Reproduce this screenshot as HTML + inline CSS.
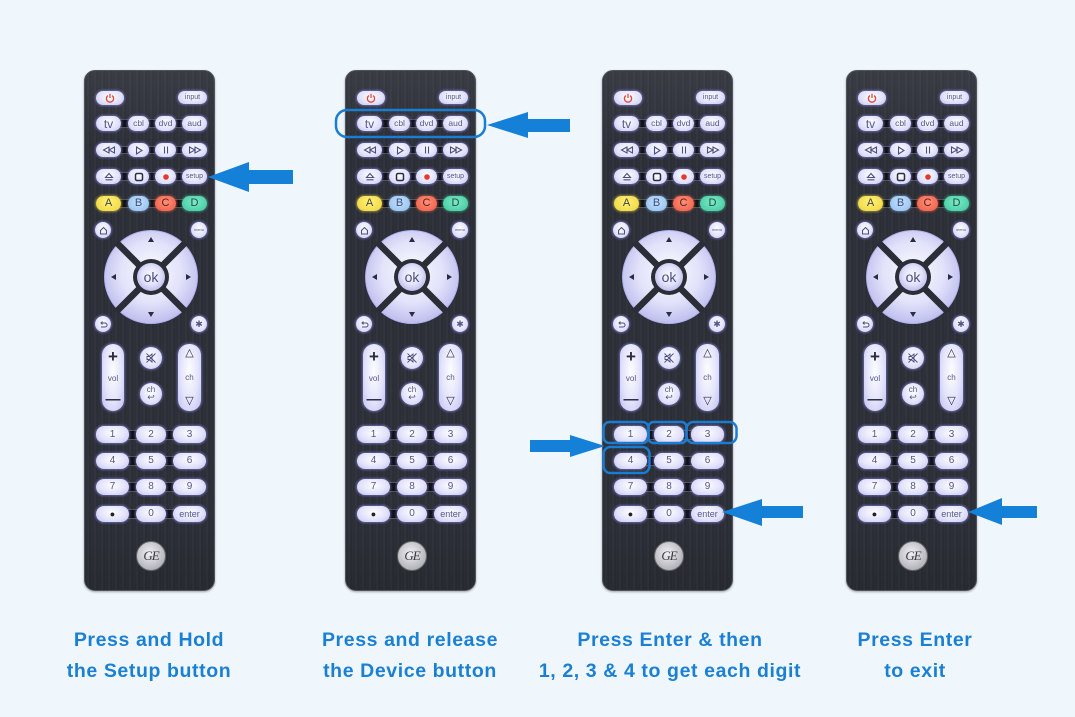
<!DOCTYPE html>
<html><head><meta charset="utf-8">
<style>
*{margin:0;padding:0;box-sizing:border-box}
html,body{width:1075px;height:717px;overflow:hidden;background:#eff7fd;font-family:"Liberation Sans",sans-serif}
.remote{position:absolute;top:70px;width:131px;height:521px;border-radius:11px;
background:linear-gradient(180deg,rgba(255,255,255,.06),rgba(0,0,0,0) 15%,rgba(0,0,0,0) 85%,rgba(0,0,0,.12)),
repeating-linear-gradient(90deg,#2d3038 0px,#2d3038 2px,#353840 3px,#292c33 5px,#30333b 7px);
border:1.5px solid #50535c;box-shadow:0 1px 2px rgba(0,0,0,.35)}
.b{position:absolute;border-radius:8px;background:radial-gradient(ellipse at 50% 40%,#fdfdff 0%,#e3e3fb 55%,#c0c0f0 100%);
box-shadow:0 0 2px 1px rgba(140,140,250,.6);color:#52578a;font-size:8.5px;display:flex;align-items:center;justify-content:center;line-height:1}
.s{position:absolute;left:12px;width:108px;background:#111216;border-top:1px solid #555;border-bottom:1px solid #555}
.c1{left:11px;width:25px}.c2{left:43px;width:21px}.c3{left:70px;width:21px}.c4{left:97px;width:25px}
.r1{top:45px;height:15px}.r2{top:72px;height:14px}.r3{top:98px;height:15px}.r4{top:125px;height:15px}
.n1{left:11px;width:33px}.n2{left:51px;width:30px}.n3{left:88px;width:33px}
.k1{top:355px;height:17px}.k2{top:382px;height:16px}.k3{top:408px;height:16px}.k4{top:435px;height:16px}
.k1,.k2,.k3{font-size:10px}.k4{font-size:9px}
.ci{width:16px;height:16px;border-radius:50%}
.A{background:radial-gradient(ellipse at 50% 40%,#fff27a,#eed23a);box-shadow:0 0 2px 1px rgba(240,220,80,.5);color:#444}
.B{background:radial-gradient(ellipse at 50% 40%,#c6e0fa,#8fbdee);box-shadow:0 0 2px 1px rgba(140,180,240,.5);color:#3b4f80}
.C{background:radial-gradient(ellipse at 50% 40%,#ff8f78,#ec5a44);box-shadow:0 0 2px 1px rgba(240,100,80,.5);color:#5a2020}
.D{background:radial-gradient(ellipse at 50% 40%,#7ee8c8,#3cc79c);box-shadow:0 0 2px 1px rgba(70,200,160,.5);color:#1f5040}
.ab{font-size:11px}
.rock{border-radius:11px;flex-direction:column;justify-content:space-between;padding:4px 0}
.ge{position:absolute;left:51px;top:470px;width:30px;height:30px;border-radius:50%;background:radial-gradient(circle at 45% 40%,#f0f0f4,#b5b5bd 70%,#8a8a92);border:1px solid #666;display:flex;align-items:center;justify-content:center;font:italic 13px "Liberation Serif",serif;color:#3a3a40;letter-spacing:-1px}
.lbl{position:absolute;width:320px;text-align:center;font-weight:bold;font-size:19.5px;line-height:31px;color:#1b80d4;letter-spacing:0.6px;top:625px}
</style></head><body>
<svg width="0" height="0" style="position:absolute"><defs>
<radialGradient id="lav" cx="50%" cy="45%" r="55%"><stop offset="0" stop-color="#fbfbff"/><stop offset=".6" stop-color="#e2e2fa"/><stop offset="1" stop-color="#bebeef"/></radialGradient>
</defs></svg>

<!-- REMOTE 1 -->
<div class="remote" style="left:84px">
<div class="b" style="left:11px;top:20px;width:28px;height:14px"><svg width="10" height="10" viewBox="0 0 10 10"><path d="M3 2.6A3.6 3.6 0 1 0 7 2.6" fill="none" stroke="#e04a3a" stroke-width="1.3"/><line x1="5" y1="0.8" x2="5" y2="5" stroke="#e04a3a" stroke-width="1.3"/></svg></div>
<div class="b" style="left:93px;top:20px;width:29px;height:13px;font-size:7px">input</div>
<div class="s" style="top:48px;height:9px"></div>
<div class="b c1 r1" style="font-size:12px">tv</div><div class="b c2 r1">cbl</div><div class="b c3 r1">dvd</div><div class="b c4 r1">aud</div>
<div class="s" style="top:75px;height:8px"></div>
<div class="b c1 r2"><svg width="14" height="8" viewBox="0 0 14 8"><path d="M7 1L1.5 4L7 7Z M12.5 1L7 4L12.5 7Z" fill="none" stroke="#4a4f80" stroke-width="1.1"/></svg></div>
<div class="b c2 r2"><svg width="8" height="9" viewBox="0 0 8 9"><path d="M1.5 1L7 4.5L1.5 8Z" fill="none" stroke="#4a4f80" stroke-width="1.1"/></svg></div>
<div class="b c3 r2"><svg width="6" height="8" viewBox="0 0 6 8"><path d="M1.5 0.5V7.5M4.5 0.5V7.5" stroke="#4a4f80" stroke-width="1.1"/></svg></div>
<div class="b c4 r2"><svg width="14" height="8" viewBox="0 0 14 8"><path d="M1.5 1L7 4L1.5 7Z M7 1L12.5 4L7 7Z" fill="none" stroke="#4a4f80" stroke-width="1.1"/></svg></div>
<div class="s" style="top:101px;height:9px"></div>
<div class="b c1 r3"><svg width="10" height="9" viewBox="0 0 10 9"><path d="M1.5 5.5L5 1.5L8.5 5.5Z M1.5 7.8H8.5" fill="none" stroke="#4a4f80" stroke-width="1.1"/></svg></div>
<div class="b c2 r3"><svg width="10" height="10" viewBox="0 0 10 10"><rect x="1.5" y="1.5" width="7" height="7" rx="1.5" fill="none" stroke="#2a2d40" stroke-width="1.5"/></svg></div>
<div class="b c3 r3"><svg width="8" height="8" viewBox="0 0 8 8"><circle cx="4" cy="4" r="2.8" fill="#e8382e"/></svg></div>
<div class="b c4 r3" style="font-size:7px">setup</div>
<div class="s" style="top:128px;height:9px"></div>
<div class="b c1 r4 A ab">A</div><div class="b c2 r4 B ab">B</div><div class="b c3 r4 C ab">C</div><div class="b c4 r4 D ab">D</div>
<div class="b ci" style="left:10px;top:151px"><svg width="9" height="9" viewBox="0 0 9 9"><path d="M1.5 4.5L4.5 1.5L7.5 4.5V8H1.5Z" fill="none" stroke="#4a4f80" stroke-width="1"/></svg></div>
<div class="b ci" style="left:106px;top:151px;font-size:4px">menu</div>
<svg style="position:absolute;left:19px;top:159px" width="94" height="94" viewBox="0 0 94 94">
<circle cx="47" cy="47" r="46.5" fill="url(#lav)" stroke="#b0b0ee" stroke-width="1"/>
<g stroke="#2b2e36" stroke-width="6.5"><line x1="12" y1="12" x2="82" y2="82"/><line x1="82" y1="12" x2="12" y2="82"/></g>
<circle cx="47" cy="47" r="18" fill="#2b2e36"/>
<circle cx="47" cy="47" r="14" fill="url(#lav)"/>
<text x="47" y="52" text-anchor="middle" font-size="14" fill="#4a4f80" font-family="Liberation Sans">ok</text>
<g fill="#2a2d40"><path d="M44 12L50 12L47 7Z"/><path d="M44 82L50 82L47 87Z"/><path d="M12 44L12 50L7 47Z"/><path d="M82 44L82 50L87 47Z"/></g>
</svg>
<div class="b ci" style="left:10px;top:245px"><svg width="9" height="9" viewBox="0 0 9 9"><path d="M2 3H6A2 2 0 0 1 6 7H2M3.5 1.5L2 3L3.5 4.5" fill="none" stroke="#4a4f80" stroke-width="1"/></svg></div>
<div class="b ci" style="left:106px;top:245px;font-size:9px">✱</div>
<div class="b rock" style="left:17px;top:273px;width:22px;height:67px"><span style="font-size:17px;font-weight:bold;color:#2a2d40">+</span><span style="font-size:8px">vol</span><span style="font-size:15px;font-weight:bold;color:#2a2d40">—</span></div>
<div class="b rock" style="left:93px;top:273px;width:23px;height:67px"><span style="font-size:11px;color:#2a2d40">△</span><span style="font-size:8px">ch</span><span style="font-size:11px;color:#2a2d40">▽</span></div>
<div class="b" style="left:55px;top:276px;width:22px;height:22px;border-radius:50%"><svg width="12" height="12" viewBox="0 0 12 12"><path d="M2 4.5H4L7 2V10L4 7.5H2Z" fill="none" stroke="#4a4f80" stroke-width="0.9"/><path d="M1.5 1.5L10.5 10.5M10.5 1.5L1.5 10.5" stroke="#4a4f80" stroke-width="0.9"/></svg></div>
<div class="b" style="left:55px;top:312px;width:22px;height:22px;border-radius:50%;flex-direction:column;font-size:8px"><span>ch</span><span style="font-size:9px;margin-top:-1px">↩</span></div>
<div class="s" style="top:359px;height:10px"></div>
<div class="b n1 k1">1</div><div class="b n2 k1">2</div><div class="b n3 k1">3</div>
<div class="s" style="top:385px;height:10px"></div>
<div class="b n1 k2">4</div><div class="b n2 k2">5</div><div class="b n3 k2">6</div>
<div class="s" style="top:411px;height:10px"></div>
<div class="b n1 k3">7</div><div class="b n2 k3">8</div><div class="b n3 k3">9</div>
<div class="s" style="top:438px;height:10px"></div>
<div class="b n1 k4" style="font-size:9px;color:#222">●</div><div class="b n2 k4" style="font-size:10px">0</div><div class="b n3 k4">enter</div>
<div class="ge">GE</div>
</div>

<!-- REMOTE 2 -->
<div class="remote" style="left:345px">
<div class="b" style="left:11px;top:20px;width:28px;height:14px"><svg width="10" height="10" viewBox="0 0 10 10"><path d="M3 2.6A3.6 3.6 0 1 0 7 2.6" fill="none" stroke="#e04a3a" stroke-width="1.3"/><line x1="5" y1="0.8" x2="5" y2="5" stroke="#e04a3a" stroke-width="1.3"/></svg></div>
<div class="b" style="left:93px;top:20px;width:29px;height:13px;font-size:7px">input</div>
<div class="s" style="top:48px;height:9px"></div>
<div class="b c1 r1" style="font-size:12px">tv</div><div class="b c2 r1">cbl</div><div class="b c3 r1">dvd</div><div class="b c4 r1">aud</div>
<div class="s" style="top:75px;height:8px"></div>
<div class="b c1 r2"><svg width="14" height="8" viewBox="0 0 14 8"><path d="M7 1L1.5 4L7 7Z M12.5 1L7 4L12.5 7Z" fill="none" stroke="#4a4f80" stroke-width="1.1"/></svg></div>
<div class="b c2 r2"><svg width="8" height="9" viewBox="0 0 8 9"><path d="M1.5 1L7 4.5L1.5 8Z" fill="none" stroke="#4a4f80" stroke-width="1.1"/></svg></div>
<div class="b c3 r2"><svg width="6" height="8" viewBox="0 0 6 8"><path d="M1.5 0.5V7.5M4.5 0.5V7.5" stroke="#4a4f80" stroke-width="1.1"/></svg></div>
<div class="b c4 r2"><svg width="14" height="8" viewBox="0 0 14 8"><path d="M1.5 1L7 4L1.5 7Z M7 1L12.5 4L7 7Z" fill="none" stroke="#4a4f80" stroke-width="1.1"/></svg></div>
<div class="s" style="top:101px;height:9px"></div>
<div class="b c1 r3"><svg width="10" height="9" viewBox="0 0 10 9"><path d="M1.5 5.5L5 1.5L8.5 5.5Z M1.5 7.8H8.5" fill="none" stroke="#4a4f80" stroke-width="1.1"/></svg></div>
<div class="b c2 r3"><svg width="10" height="10" viewBox="0 0 10 10"><rect x="1.5" y="1.5" width="7" height="7" rx="1.5" fill="none" stroke="#2a2d40" stroke-width="1.5"/></svg></div>
<div class="b c3 r3"><svg width="8" height="8" viewBox="0 0 8 8"><circle cx="4" cy="4" r="2.8" fill="#e8382e"/></svg></div>
<div class="b c4 r3" style="font-size:7px">setup</div>
<div class="s" style="top:128px;height:9px"></div>
<div class="b c1 r4 A ab">A</div><div class="b c2 r4 B ab">B</div><div class="b c3 r4 C ab">C</div><div class="b c4 r4 D ab">D</div>
<div class="b ci" style="left:10px;top:151px"><svg width="9" height="9" viewBox="0 0 9 9"><path d="M1.5 4.5L4.5 1.5L7.5 4.5V8H1.5Z" fill="none" stroke="#4a4f80" stroke-width="1"/></svg></div>
<div class="b ci" style="left:106px;top:151px;font-size:4px">menu</div>
<svg style="position:absolute;left:19px;top:159px" width="94" height="94" viewBox="0 0 94 94">
<circle cx="47" cy="47" r="46.5" fill="url(#lav)" stroke="#b0b0ee" stroke-width="1"/>
<g stroke="#2b2e36" stroke-width="6.5"><line x1="12" y1="12" x2="82" y2="82"/><line x1="82" y1="12" x2="12" y2="82"/></g>
<circle cx="47" cy="47" r="18" fill="#2b2e36"/>
<circle cx="47" cy="47" r="14" fill="url(#lav)"/>
<text x="47" y="52" text-anchor="middle" font-size="14" fill="#4a4f80" font-family="Liberation Sans">ok</text>
<g fill="#2a2d40"><path d="M44 12L50 12L47 7Z"/><path d="M44 82L50 82L47 87Z"/><path d="M12 44L12 50L7 47Z"/><path d="M82 44L82 50L87 47Z"/></g>
</svg>
<div class="b ci" style="left:10px;top:245px"><svg width="9" height="9" viewBox="0 0 9 9"><path d="M2 3H6A2 2 0 0 1 6 7H2M3.5 1.5L2 3L3.5 4.5" fill="none" stroke="#4a4f80" stroke-width="1"/></svg></div>
<div class="b ci" style="left:106px;top:245px;font-size:9px">✱</div>
<div class="b rock" style="left:17px;top:273px;width:22px;height:67px"><span style="font-size:17px;font-weight:bold;color:#2a2d40">+</span><span style="font-size:8px">vol</span><span style="font-size:15px;font-weight:bold;color:#2a2d40">—</span></div>
<div class="b rock" style="left:93px;top:273px;width:23px;height:67px"><span style="font-size:11px;color:#2a2d40">△</span><span style="font-size:8px">ch</span><span style="font-size:11px;color:#2a2d40">▽</span></div>
<div class="b" style="left:55px;top:276px;width:22px;height:22px;border-radius:50%"><svg width="12" height="12" viewBox="0 0 12 12"><path d="M2 4.5H4L7 2V10L4 7.5H2Z" fill="none" stroke="#4a4f80" stroke-width="0.9"/><path d="M1.5 1.5L10.5 10.5M10.5 1.5L1.5 10.5" stroke="#4a4f80" stroke-width="0.9"/></svg></div>
<div class="b" style="left:55px;top:312px;width:22px;height:22px;border-radius:50%;flex-direction:column;font-size:8px"><span>ch</span><span style="font-size:9px;margin-top:-1px">↩</span></div>
<div class="s" style="top:359px;height:10px"></div>
<div class="b n1 k1">1</div><div class="b n2 k1">2</div><div class="b n3 k1">3</div>
<div class="s" style="top:385px;height:10px"></div>
<div class="b n1 k2">4</div><div class="b n2 k2">5</div><div class="b n3 k2">6</div>
<div class="s" style="top:411px;height:10px"></div>
<div class="b n1 k3">7</div><div class="b n2 k3">8</div><div class="b n3 k3">9</div>
<div class="s" style="top:438px;height:10px"></div>
<div class="b n1 k4" style="font-size:9px;color:#222">●</div><div class="b n2 k4" style="font-size:10px">0</div><div class="b n3 k4">enter</div>
<div class="ge">GE</div>
</div>

<!-- REMOTE 3 -->
<div class="remote" style="left:602px">
<div class="b" style="left:11px;top:20px;width:28px;height:14px"><svg width="10" height="10" viewBox="0 0 10 10"><path d="M3 2.6A3.6 3.6 0 1 0 7 2.6" fill="none" stroke="#e04a3a" stroke-width="1.3"/><line x1="5" y1="0.8" x2="5" y2="5" stroke="#e04a3a" stroke-width="1.3"/></svg></div>
<div class="b" style="left:93px;top:20px;width:29px;height:13px;font-size:7px">input</div>
<div class="s" style="top:48px;height:9px"></div>
<div class="b c1 r1" style="font-size:12px">tv</div><div class="b c2 r1">cbl</div><div class="b c3 r1">dvd</div><div class="b c4 r1">aud</div>
<div class="s" style="top:75px;height:8px"></div>
<div class="b c1 r2"><svg width="14" height="8" viewBox="0 0 14 8"><path d="M7 1L1.5 4L7 7Z M12.5 1L7 4L12.5 7Z" fill="none" stroke="#4a4f80" stroke-width="1.1"/></svg></div>
<div class="b c2 r2"><svg width="8" height="9" viewBox="0 0 8 9"><path d="M1.5 1L7 4.5L1.5 8Z" fill="none" stroke="#4a4f80" stroke-width="1.1"/></svg></div>
<div class="b c3 r2"><svg width="6" height="8" viewBox="0 0 6 8"><path d="M1.5 0.5V7.5M4.5 0.5V7.5" stroke="#4a4f80" stroke-width="1.1"/></svg></div>
<div class="b c4 r2"><svg width="14" height="8" viewBox="0 0 14 8"><path d="M1.5 1L7 4L1.5 7Z M7 1L12.5 4L7 7Z" fill="none" stroke="#4a4f80" stroke-width="1.1"/></svg></div>
<div class="s" style="top:101px;height:9px"></div>
<div class="b c1 r3"><svg width="10" height="9" viewBox="0 0 10 9"><path d="M1.5 5.5L5 1.5L8.5 5.5Z M1.5 7.8H8.5" fill="none" stroke="#4a4f80" stroke-width="1.1"/></svg></div>
<div class="b c2 r3"><svg width="10" height="10" viewBox="0 0 10 10"><rect x="1.5" y="1.5" width="7" height="7" rx="1.5" fill="none" stroke="#2a2d40" stroke-width="1.5"/></svg></div>
<div class="b c3 r3"><svg width="8" height="8" viewBox="0 0 8 8"><circle cx="4" cy="4" r="2.8" fill="#e8382e"/></svg></div>
<div class="b c4 r3" style="font-size:7px">setup</div>
<div class="s" style="top:128px;height:9px"></div>
<div class="b c1 r4 A ab">A</div><div class="b c2 r4 B ab">B</div><div class="b c3 r4 C ab">C</div><div class="b c4 r4 D ab">D</div>
<div class="b ci" style="left:10px;top:151px"><svg width="9" height="9" viewBox="0 0 9 9"><path d="M1.5 4.5L4.5 1.5L7.5 4.5V8H1.5Z" fill="none" stroke="#4a4f80" stroke-width="1"/></svg></div>
<div class="b ci" style="left:106px;top:151px;font-size:4px">menu</div>
<svg style="position:absolute;left:19px;top:159px" width="94" height="94" viewBox="0 0 94 94">
<circle cx="47" cy="47" r="46.5" fill="url(#lav)" stroke="#b0b0ee" stroke-width="1"/>
<g stroke="#2b2e36" stroke-width="6.5"><line x1="12" y1="12" x2="82" y2="82"/><line x1="82" y1="12" x2="12" y2="82"/></g>
<circle cx="47" cy="47" r="18" fill="#2b2e36"/>
<circle cx="47" cy="47" r="14" fill="url(#lav)"/>
<text x="47" y="52" text-anchor="middle" font-size="14" fill="#4a4f80" font-family="Liberation Sans">ok</text>
<g fill="#2a2d40"><path d="M44 12L50 12L47 7Z"/><path d="M44 82L50 82L47 87Z"/><path d="M12 44L12 50L7 47Z"/><path d="M82 44L82 50L87 47Z"/></g>
</svg>
<div class="b ci" style="left:10px;top:245px"><svg width="9" height="9" viewBox="0 0 9 9"><path d="M2 3H6A2 2 0 0 1 6 7H2M3.5 1.5L2 3L3.5 4.5" fill="none" stroke="#4a4f80" stroke-width="1"/></svg></div>
<div class="b ci" style="left:106px;top:245px;font-size:9px">✱</div>
<div class="b rock" style="left:17px;top:273px;width:22px;height:67px"><span style="font-size:17px;font-weight:bold;color:#2a2d40">+</span><span style="font-size:8px">vol</span><span style="font-size:15px;font-weight:bold;color:#2a2d40">—</span></div>
<div class="b rock" style="left:93px;top:273px;width:23px;height:67px"><span style="font-size:11px;color:#2a2d40">△</span><span style="font-size:8px">ch</span><span style="font-size:11px;color:#2a2d40">▽</span></div>
<div class="b" style="left:55px;top:276px;width:22px;height:22px;border-radius:50%"><svg width="12" height="12" viewBox="0 0 12 12"><path d="M2 4.5H4L7 2V10L4 7.5H2Z" fill="none" stroke="#4a4f80" stroke-width="0.9"/><path d="M1.5 1.5L10.5 10.5M10.5 1.5L1.5 10.5" stroke="#4a4f80" stroke-width="0.9"/></svg></div>
<div class="b" style="left:55px;top:312px;width:22px;height:22px;border-radius:50%;flex-direction:column;font-size:8px"><span>ch</span><span style="font-size:9px;margin-top:-1px">↩</span></div>
<div class="s" style="top:359px;height:10px"></div>
<div class="b n1 k1">1</div><div class="b n2 k1">2</div><div class="b n3 k1">3</div>
<div class="s" style="top:385px;height:10px"></div>
<div class="b n1 k2">4</div><div class="b n2 k2">5</div><div class="b n3 k2">6</div>
<div class="s" style="top:411px;height:10px"></div>
<div class="b n1 k3">7</div><div class="b n2 k3">8</div><div class="b n3 k3">9</div>
<div class="s" style="top:438px;height:10px"></div>
<div class="b n1 k4" style="font-size:9px;color:#222">●</div><div class="b n2 k4" style="font-size:10px">0</div><div class="b n3 k4">enter</div>
<div class="ge">GE</div>
</div>

<!-- REMOTE 4 -->
<div class="remote" style="left:846px">
<div class="b" style="left:11px;top:20px;width:28px;height:14px"><svg width="10" height="10" viewBox="0 0 10 10"><path d="M3 2.6A3.6 3.6 0 1 0 7 2.6" fill="none" stroke="#e04a3a" stroke-width="1.3"/><line x1="5" y1="0.8" x2="5" y2="5" stroke="#e04a3a" stroke-width="1.3"/></svg></div>
<div class="b" style="left:93px;top:20px;width:29px;height:13px;font-size:7px">input</div>
<div class="s" style="top:48px;height:9px"></div>
<div class="b c1 r1" style="font-size:12px">tv</div><div class="b c2 r1">cbl</div><div class="b c3 r1">dvd</div><div class="b c4 r1">aud</div>
<div class="s" style="top:75px;height:8px"></div>
<div class="b c1 r2"><svg width="14" height="8" viewBox="0 0 14 8"><path d="M7 1L1.5 4L7 7Z M12.5 1L7 4L12.5 7Z" fill="none" stroke="#4a4f80" stroke-width="1.1"/></svg></div>
<div class="b c2 r2"><svg width="8" height="9" viewBox="0 0 8 9"><path d="M1.5 1L7 4.5L1.5 8Z" fill="none" stroke="#4a4f80" stroke-width="1.1"/></svg></div>
<div class="b c3 r2"><svg width="6" height="8" viewBox="0 0 6 8"><path d="M1.5 0.5V7.5M4.5 0.5V7.5" stroke="#4a4f80" stroke-width="1.1"/></svg></div>
<div class="b c4 r2"><svg width="14" height="8" viewBox="0 0 14 8"><path d="M1.5 1L7 4L1.5 7Z M7 1L12.5 4L7 7Z" fill="none" stroke="#4a4f80" stroke-width="1.1"/></svg></div>
<div class="s" style="top:101px;height:9px"></div>
<div class="b c1 r3"><svg width="10" height="9" viewBox="0 0 10 9"><path d="M1.5 5.5L5 1.5L8.5 5.5Z M1.5 7.8H8.5" fill="none" stroke="#4a4f80" stroke-width="1.1"/></svg></div>
<div class="b c2 r3"><svg width="10" height="10" viewBox="0 0 10 10"><rect x="1.5" y="1.5" width="7" height="7" rx="1.5" fill="none" stroke="#2a2d40" stroke-width="1.5"/></svg></div>
<div class="b c3 r3"><svg width="8" height="8" viewBox="0 0 8 8"><circle cx="4" cy="4" r="2.8" fill="#e8382e"/></svg></div>
<div class="b c4 r3" style="font-size:7px">setup</div>
<div class="s" style="top:128px;height:9px"></div>
<div class="b c1 r4 A ab">A</div><div class="b c2 r4 B ab">B</div><div class="b c3 r4 C ab">C</div><div class="b c4 r4 D ab">D</div>
<div class="b ci" style="left:10px;top:151px"><svg width="9" height="9" viewBox="0 0 9 9"><path d="M1.5 4.5L4.5 1.5L7.5 4.5V8H1.5Z" fill="none" stroke="#4a4f80" stroke-width="1"/></svg></div>
<div class="b ci" style="left:106px;top:151px;font-size:4px">menu</div>
<svg style="position:absolute;left:19px;top:159px" width="94" height="94" viewBox="0 0 94 94">
<circle cx="47" cy="47" r="46.5" fill="url(#lav)" stroke="#b0b0ee" stroke-width="1"/>
<g stroke="#2b2e36" stroke-width="6.5"><line x1="12" y1="12" x2="82" y2="82"/><line x1="82" y1="12" x2="12" y2="82"/></g>
<circle cx="47" cy="47" r="18" fill="#2b2e36"/>
<circle cx="47" cy="47" r="14" fill="url(#lav)"/>
<text x="47" y="52" text-anchor="middle" font-size="14" fill="#4a4f80" font-family="Liberation Sans">ok</text>
<g fill="#2a2d40"><path d="M44 12L50 12L47 7Z"/><path d="M44 82L50 82L47 87Z"/><path d="M12 44L12 50L7 47Z"/><path d="M82 44L82 50L87 47Z"/></g>
</svg>
<div class="b ci" style="left:10px;top:245px"><svg width="9" height="9" viewBox="0 0 9 9"><path d="M2 3H6A2 2 0 0 1 6 7H2M3.5 1.5L2 3L3.5 4.5" fill="none" stroke="#4a4f80" stroke-width="1"/></svg></div>
<div class="b ci" style="left:106px;top:245px;font-size:9px">✱</div>
<div class="b rock" style="left:17px;top:273px;width:22px;height:67px"><span style="font-size:17px;font-weight:bold;color:#2a2d40">+</span><span style="font-size:8px">vol</span><span style="font-size:15px;font-weight:bold;color:#2a2d40">—</span></div>
<div class="b rock" style="left:93px;top:273px;width:23px;height:67px"><span style="font-size:11px;color:#2a2d40">△</span><span style="font-size:8px">ch</span><span style="font-size:11px;color:#2a2d40">▽</span></div>
<div class="b" style="left:55px;top:276px;width:22px;height:22px;border-radius:50%"><svg width="12" height="12" viewBox="0 0 12 12"><path d="M2 4.5H4L7 2V10L4 7.5H2Z" fill="none" stroke="#4a4f80" stroke-width="0.9"/><path d="M1.5 1.5L10.5 10.5M10.5 1.5L1.5 10.5" stroke="#4a4f80" stroke-width="0.9"/></svg></div>
<div class="b" style="left:55px;top:312px;width:22px;height:22px;border-radius:50%;flex-direction:column;font-size:8px"><span>ch</span><span style="font-size:9px;margin-top:-1px">↩</span></div>
<div class="s" style="top:359px;height:10px"></div>
<div class="b n1 k1">1</div><div class="b n2 k1">2</div><div class="b n3 k1">3</div>
<div class="s" style="top:385px;height:10px"></div>
<div class="b n1 k2">4</div><div class="b n2 k2">5</div><div class="b n3 k2">6</div>
<div class="s" style="top:411px;height:10px"></div>
<div class="b n1 k3">7</div><div class="b n2 k3">8</div><div class="b n3 k3">9</div>
<div class="s" style="top:438px;height:10px"></div>
<div class="b n1 k4" style="font-size:9px;color:#222">●</div><div class="b n2 k4" style="font-size:10px">0</div><div class="b n3 k4">enter</div>
<div class="ge">GE</div>
</div>

<!-- Overlay: arrows and highlight boxes -->
<svg style="position:absolute;left:0;top:0" width="1075" height="717" viewBox="0 0 1075 717">
<g fill="#1580d8">
<path d="M208 177L249 162L249 170L293 170L293 184L249 184L249 192Z"/>
<path d="M487 125L528 112L528 119L570 119L570 132L528 132L528 138Z"/>
<path d="M605 446L570 435L570 440L530 440L530 452L570 452L570 457Z"/>
<path d="M722 512L762 499L762 506L803 506L803 518L762 518L762 526Z"/>
<path d="M968 512L1002 498L1002 506L1037 506L1037 518L1002 518L1002 525Z"/>
</g>
<g fill="none" stroke="#1a7cd2" stroke-width="2.5">
<rect x="336" y="110" width="149" height="27" rx="11"/>
<rect x="603.5" y="422" width="45" height="21" rx="6"/>
<rect x="648.5" y="422" width="38" height="21" rx="5"/>
<rect x="686.5" y="422" width="50" height="21" rx="7"/>
<rect x="603.5" y="447" width="46" height="26" rx="7"/>
</g>
</svg>

<div class="lbl" style="left:-11px">Press and Hold<br>the Setup button</div>
<div class="lbl" style="left:250px">Press and release<br>the Device button</div>
<div class="lbl" style="left:510px">Press Enter &amp; then<br>1, 2, 3 &amp; 4 to get each digit</div>
<div class="lbl" style="left:755px">Press Enter<br>to exit</div>
</body></html>
